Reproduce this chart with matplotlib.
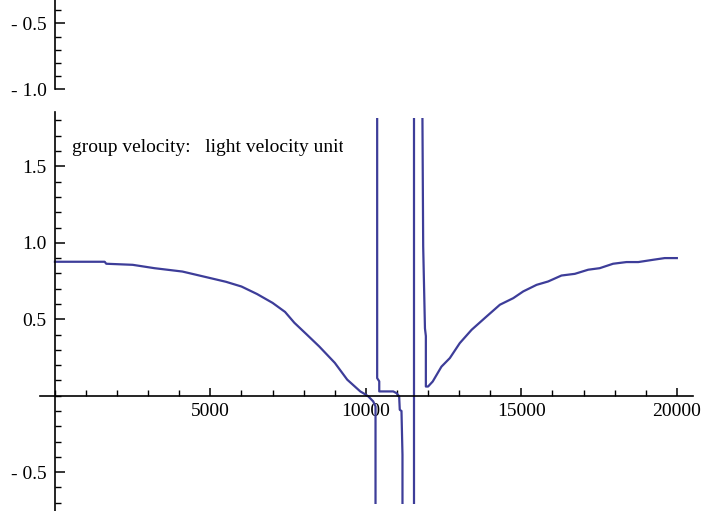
import matplotlib
matplotlib.use("Agg")
import matplotlib.pyplot as plt
import matplotlib.ticker as mticker
from matplotlib.patches import Rectangle

plt.rcParams['font.family'] = ['Liberation Serif', 'DejaVu Serif']

# Branches of the group velocity curve (x, velocity in light units)
left_x = [0, 1600, 1650, 2500, 3200, 4100, 5000, 5500, 6000, 6500, 7000, 7400,
          7700, 8100, 8500, 9000, 9400, 9820, 9914, 10075, 10235, 10310, 10310]
left_y = [0.876, 0.876, 0.863, 0.856, 0.834, 0.812, 0.769, 0.745, 0.714, 0.665,
          0.607, 0.548, 0.477, 0.400, 0.322, 0.215, 0.105, 0.028, 0.017, -0.004,
          -0.037, -0.07, -3.0]

mid_x = [10363, 10363, 10430, 10430, 10880, 10985, 11070, 11090, 11145, 11177, 11177]
mid_y = [3.0, 0.115, 0.094, 0.028, 0.028, 0.017, -0.004, -0.092, -0.10, -0.386, -3.0]

pole_x = [11543, 11543]
pole_y = [-3.0, 3.0]

right_x = [11785, 11843, 11900, 11929, 11929, 12000, 12150, 12430, 12700, 13020,
           13400, 13880, 14310, 14740, 15060, 15490, 15860, 16290, 16720, 17150,
           17520, 17950, 18380, 18760, 19240, 19610, 20000]
right_y = [3.0, 0.976, 0.44, 0.39, 0.06, 0.06, 0.093, 0.19, 0.246, 0.344,
           0.431, 0.518, 0.595, 0.638, 0.682, 0.725, 0.747, 0.786, 0.797, 0.824,
           0.834, 0.863, 0.874, 0.874, 0.889, 0.90, 0.90]

x_major = [5000, 10000, 15000, 20000]
y_major = [-0.5, 0.5, 1.0, 1.5]
top_major = [-0.5, -1.0]

line_color = '#3d3d99'


def mma_label(v, pos=None):
    s = '%.1f' % abs(v)
    return '- ' + s if v < 0 else s


fig = plt.figure(figsize=(7.02, 5.11), dpi=100)

# Main plot
ax = fig.add_axes([40 / 702, 0.0, 653 / 702, 0.781])
ax.set_xlim(-480, 20520)
ax.set_ylim(-0.754, 1.856)

clip = Rectangle((-480, -0.71), 21000, 2.525, transform=ax.transData)
for xs, ys in [(left_x, left_y), (mid_x, mid_y), (pole_x, pole_y), (right_x, right_y)]:
    ln, = ax.plot(xs, ys, color=line_color, lw=1.6, clip_on=True)
    ln.set_clip_path(clip)

for side in ['top', 'right']:
    ax.spines[side].set_visible(False)
ax.spines['left'].set_position(('data', 0))
ax.spines['bottom'].set_position(('data', 0))
for side in ['left', 'bottom']:
    ax.spines[side].set_linewidth(1.2)

ax.xaxis.set_major_locator(mticker.FixedLocator(x_major))
ax.xaxis.set_minor_locator(mticker.MultipleLocator(1000))
ax.yaxis.set_major_locator(mticker.FixedLocator(y_major))
ax.yaxis.set_minor_locator(mticker.MultipleLocator(0.1))
ax.yaxis.set_major_formatter(mticker.FuncFormatter(mma_label))
ax.tick_params(axis='x', which='major', direction='in', length=5.5, width=1.1,
               labelsize=14, pad=5)
ax.tick_params(axis='x', which='minor', direction='in', length=4.3, width=1.0)
ax.tick_params(axis='y', which='major', direction='in', length=7, width=1.1,
               labelsize=14, pad=6)
ax.tick_params(axis='y', which='minor', direction='in', length=4.3, width=1.0)
ax.set_facecolor('none')

# Label text, cut off at the right like the original
tax = fig.add_axes([60 / 702, (511 - 170) / 511, (343 - 60) / 702, 60 / 511])
tax.set_axis_off()
tax.set_xlim(0, 1)
tax.set_ylim(0, 1)
tax.text(12 / 283, 18.5 / 60, 'group velocity:   light velocity unit',
         fontsize=14, ha='left', va='baseline', clip_on=True)

# Bottom part of the previous plot's axis
top = fig.add_axes([40 / 702, 0.825, 653 / 702, 0.175])
top.set_xlim(-480, 20520)
top.set_ylim(-1.0, -0.3235)
for side in ['top', 'right', 'bottom']:
    top.spines[side].set_visible(False)
top.spines['left'].set_position(('data', 0))
top.spines['left'].set_linewidth(1.2)
top.set_xticks([])
top.yaxis.set_major_locator(mticker.FixedLocator(top_major))
top.yaxis.set_minor_locator(mticker.MultipleLocator(0.1))
top.yaxis.set_major_formatter(mticker.FuncFormatter(mma_label))
top.tick_params(axis='y', which='major', direction='in', length=7, width=1.1,
                labelsize=14, pad=6)
top.tick_params(axis='y', which='minor', direction='in', length=4.3, width=1.0)
top.set_facecolor('none')

fig.savefig('out.png', dpi=100)
